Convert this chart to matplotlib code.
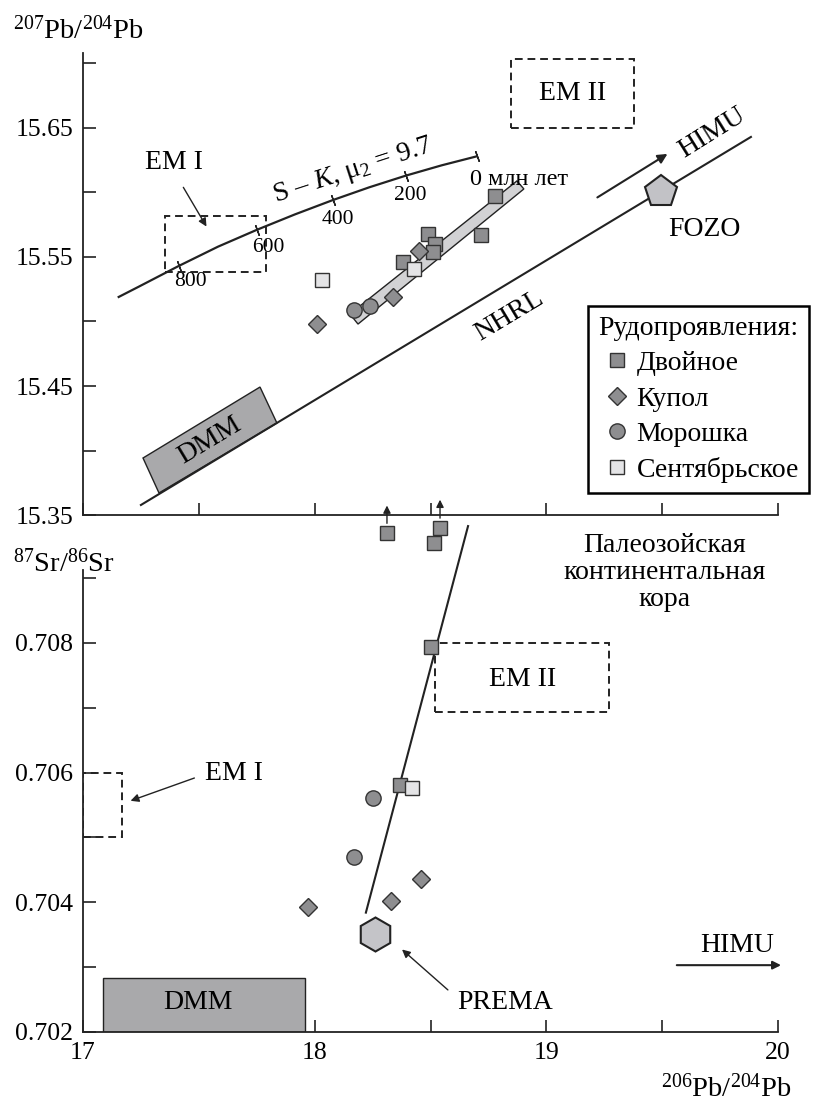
import matplotlib
matplotlib.use("Agg")
import matplotlib.pyplot as plt
from matplotlib.patches import Polygon, Rectangle
from matplotlib.lines import Line2D

plt.rcParams['font.family'] = ['Liberation Serif', 'DejaVu Serif']
plt.rcParams['mathtext.fontset'] = 'custom'
plt.rcParams['mathtext.rm'] = 'Liberation Serif'
plt.rcParams['mathtext.it'] = 'Liberation Serif:italic'

# --- top panel: 207Pb/204Pb vs 206Pb/204Pb ---
dvoinoe_x = [18.78, 18.72, 18.49, 18.52, 18.51, 18.38]
dvoinoe_y = [15.597, 15.567, 15.568, 15.560, 15.554, 15.546]
kupol_x = [18.45, 18.34, 18.01]
kupol_y = [15.555, 15.519, 15.498]
moroshka_x = [18.17, 18.24]
moroshka_y = [15.509, 15.512]
sent_x = [18.43, 18.03]
sent_y = [15.541, 15.532]

# Stacey-Kramers growth curve (ages in Ma)
sk_age = [950, 900, 800, 700, 600, 500, 400, 300, 200, 100, 0]
sk_x = [17.154, 17.241, 17.413, 17.583, 17.750, 17.915, 18.077, 18.236, 18.393, 18.548, 18.700]
sk_y = [15.519, 15.527, 15.543, 15.558, 15.571, 15.583, 15.594, 15.604, 15.613, 15.621, 15.628]
sk_marks = [800, 600, 400, 200, 0]

nhrl_x = [17.25, 19.883]
nhrl_y = [15.3578, 15.643]

band_x = [18.873, 18.903, 18.187, 18.152]
band_y = [15.6089, 15.6027, 15.498, 15.5058]

dmm_top_x = [17.259, 17.764, 17.837, 17.328]
dmm_top_y = [15.3942, 15.4492, 15.4213, 15.3671]

em1_top = (17.354, 15.538, 17.790, 15.582)   # x0, y0, x1, y1
em2_top = (18.847, 15.650, 19.378, 15.7035)
fozo = (19.495, 15.600)

# --- bottom panel: 87Sr/86Sr vs 206Pb/204Pb ---
dvoinoe_sr_x = [18.50, 18.37, 18.31, 18.54, 18.515]
dvoinoe_sr_y = [0.70794, 0.70581, 0.70969, 0.70977, 0.70954]
kupol_sr_x = [18.46, 18.33, 17.97]
kupol_sr_y = [0.70436, 0.70402, 0.70393]
moroshka_sr_x = [18.25, 18.17]
moroshka_sr_y = [0.70561, 0.70470]
sent_sr_x = [18.42]
sent_sr_y = [0.70576]

offscale_x = [18.312, 18.541]
offscale_y0 = [0.70980, 0.70988]
offscale_y1 = [0.71016, 0.71025]

trend_x = [18.221, 18.662]
trend_y = [0.70384, 0.70980]

prema = (18.26, 0.70351)
dmm_bot = (17.086, 0.702, 17.958, 0.70283)
em1_bot = (17.0, 0.705, 17.168, 0.706)
em2_bot = (18.519, 0.70693, 19.270, 0.70800)

x_ticks = [17, 17.5, 18, 18.5, 19, 19.5, 20]
x_labels = ['17', '', '18', '', '19', '', '20']
pb_ticks = [15.35, 15.40, 15.45, 15.50, 15.55, 15.60, 15.65, 15.70]
pb_labels = ['15.35', '', '15.45', '', '15.55', '', '15.65', '']
sr_ticks = [0.702, 0.703, 0.704, 0.705, 0.706, 0.707, 0.708, 0.709]
sr_labels = ['0.702', '', '0.704', '', '0.706', '', '0.708', '']

DARK = '#222222'
EDGE = '#333333'
MID = '#8e8e90'
LIGHT = '#e4e4e6'
FS = 20      # annotation text
TFS = 18.5   # tick labels
SFS = 15.5   # ages on the S-K curve

fig = plt.figure(figsize=(8.17, 11.01), dpi=100)
ax = fig.add_axes([0.1016, 0.5322, 0.8507, 0.4196])
bx = fig.add_axes([0.1016, 0.0627, 0.8507, 0.4696])
bx.patch.set_visible(False)

for a in (ax, bx):
    a.spines['top'].set_visible(False)
    a.spines['right'].set_visible(False)
    for s in ('left', 'bottom'):
        a.spines[s].set_linewidth(1.3)
        a.spines[s].set_color(DARK)
    a.set_xlim(17, 20)
    a.set_xticks(x_ticks)
    a.tick_params(direction='in', length=9, width=1.2, color=DARK,
                  labelsize=TFS, pad=7)

ax.set_ylim(15.35, 15.708)
ax.set_yticks(pb_ticks)
ax.set_yticklabels(pb_labels)
ax.set_xticklabels([''] * len(x_ticks))

bx.set_ylim(0.702, 0.709972)
bx.set_yticks(sr_ticks)
bx.set_yticklabels(sr_labels)
bx.set_xticklabels(x_labels)
bx.spines['left'].set_bounds(0.702, 0.70912)

mk = dict(linestyle='none', markeredgecolor=EDGE, markeredgewidth=1.0, zorder=5)

# top panel
ax.add_patch(Polygon(list(zip(band_x, band_y)), closed=True, facecolor='#d2d2d4',
                     edgecolor=DARK, lw=1.0, zorder=2))
ax.add_patch(Polygon(list(zip(dmm_top_x, dmm_top_y)), closed=True, facecolor='#a9a9ab',
                     edgecolor=DARK, lw=1.0, zorder=2))
ax.text(17.548, 15.408, 'DMM', fontsize=FS, rotation=31, ha='center', va='center', zorder=3)

ax.plot(nhrl_x, nhrl_y, color=DARK, lw=1.5, zorder=3)
ax.text(18.84, 15.504, 'NHRL', fontsize=FS, rotation=31, ha='center', va='center')

ax.plot(sk_x, sk_y, color=DARK, lw=1.6, zorder=3)
for age, x, y in zip(sk_age, sk_x, sk_y):
    if age in sk_marks:
        ax.plot(x, y, marker=(2, 2, 20), markersize=8, markeredgewidth=1.0,
                color=DARK, zorder=3)
ax.text(17.462, 15.5306, '800', fontsize=SFS, ha='center', va='center')
ax.text(17.798, 15.557, '600', fontsize=SFS, ha='center', va='center')
ax.text(18.100, 15.5787, '400', fontsize=SFS, ha='center', va='center')
ax.text(18.411, 15.598, '200', fontsize=SFS, ha='center', va='center')
ax.text(18.670, 15.6097, '0 млн лет', fontsize=17.5, ha='left', va='center')
ax.text(18.165, 15.617, r'S – $K$, μ$_2$ = 9.7', fontsize=FS, rotation=18,
        ha='center', va='center')

for box in (em1_top, em2_top):
    ax.add_patch(Rectangle((box[0], box[1]), box[2] - box[0], box[3] - box[1],
                           fill=False, edgecolor=DARK, lw=1.4, ls=(0, (4, 2.5)), zorder=3))
ax.text(19.115, 15.677, 'EM II', fontsize=FS, ha='center', va='center')
ax.text(17.393, 15.623, 'EM I', fontsize=FS, ha='center', va='center')
ax.annotate('', xy=(17.539, 15.5717), xytext=(17.427, 15.6058),
            arrowprops=dict(arrowstyle='-|>', color=DARK, lw=1.0, mutation_scale=12))

ax.annotate('', xy=(19.533, 15.631), xytext=(19.210, 15.595),
            arrowprops=dict(arrowstyle='-|>', color=DARK, lw=1.5, mutation_scale=14))
ax.text(19.715, 15.646, 'HIMU', fontsize=FS, rotation=32, ha='center', va='center')

ax.plot(*fozo, marker='p', markersize=24, markerfacecolor='#c2c2c6',
        markeredgecolor=DARK, markeredgewidth=1.5, zorder=6)
ax.text(19.68, 15.571, 'FOZO', fontsize=FS, ha='center', va='center')

ax.plot(dvoinoe_x, dvoinoe_y, marker='s', markersize=9.5, markerfacecolor=MID, **mk)
ax.plot(kupol_x, kupol_y, marker='D', markersize=9.2, markerfacecolor=MID, **mk)
ax.plot(moroshka_x, moroshka_y, marker='o', markersize=11, markerfacecolor=MID, **mk)
ax.plot(sent_x, sent_y, marker='s', markersize=9.5, markerfacecolor=LIGHT, **mk)

handles = [
    Line2D([], [], marker='s', markersize=9.5, markerfacecolor=MID, **mk),
    Line2D([], [], marker='D', markersize=9, markerfacecolor=MID, **mk),
    Line2D([], [], marker='o', markersize=11, markerfacecolor=MID, **mk),
    Line2D([], [], marker='s', markersize=9.5, markerfacecolor=LIGHT, **mk),
]
labels = ['Двойное', 'Купол', 'Морошка', 'Сентябрьское']
leg = ax.legend(handles, labels, title='Рудопроявления:', loc='upper left',
                bbox_to_anchor=(0.7197, 1 - 306 / 1101), bbox_transform=fig.transFigure,
                fontsize=FS, title_fontsize=FS, alignment='left', fancybox=False,
                framealpha=1, edgecolor='black', handlelength=1.4, handletextpad=0.0,
                labelspacing=0.36, borderpad=0.35, borderaxespad=0)
leg.get_frame().set_linewidth(1.8)

# bottom panel
bx.add_patch(Rectangle((dmm_bot[0], dmm_bot[1]), dmm_bot[2] - dmm_bot[0], dmm_bot[3] - dmm_bot[1],
                       facecolor='#a9a9ab', edgecolor=DARK, lw=1.0, zorder=2))
bx.text(17.496, 0.70246, 'DMM', fontsize=FS, ha='center', va='center', zorder=3)

for box in (em1_bot, em2_bot):
    bx.add_patch(Rectangle((box[0], box[1]), box[2] - box[0], box[3] - box[1],
                           fill=False, edgecolor=DARK, lw=1.4, ls=(0, (4, 2.5)), zorder=3))
bx.text(18.899, 0.70743, 'EM II', fontsize=FS, ha='center', va='center')
bx.text(17.527, 0.70599, 'EM I', fontsize=FS, ha='left', va='center')
bx.annotate('', xy=(17.194, 0.70555), xytext=(17.492, 0.70593),
            arrowprops=dict(arrowstyle='-|>', color=DARK, lw=1.0, mutation_scale=12))

bx.plot(trend_x, trend_y, color=DARK, lw=1.5, zorder=3, clip_on=False)

bx.plot(*prema, marker='h', markersize=24.5, markerfacecolor='#c4c4c8',
        markeredgecolor=DARK, markeredgewidth=1.5, zorder=6)
bx.text(18.821, 0.70246, 'PREMA', fontsize=FS, ha='center', va='center')
bx.annotate('', xy=(18.368, 0.70330), xytext=(18.584, 0.70262),
            arrowprops=dict(arrowstyle='-|>', color=DARK, lw=1.0, mutation_scale=12))

bx.annotate('', xy=(20.025, 0.70303), xytext=(19.551, 0.70303), annotation_clip=False,
            arrowprops=dict(arrowstyle='-|>', color=DARK, lw=1.5, mutation_scale=12))
bx.text(19.823, 0.70334, 'HIMU', fontsize=FS, ha='center', va='center')

bx.text(19.512, 0.70908, 'Палеозойская\nконтинентальная\nкора', fontsize=FS,
        ha='center', va='center', linespacing=1.1)

for x, y0, y1 in zip(offscale_x, offscale_y0, offscale_y1):
    bx.annotate('', xy=(x, y1), xytext=(x, y0), annotation_clip=False,
                arrowprops=dict(arrowstyle='-|>', color=DARK, lw=1.0, mutation_scale=11))

bx.plot(dvoinoe_sr_x, dvoinoe_sr_y, marker='s', markersize=9.5, markerfacecolor=MID,
        clip_on=False, **mk)
bx.plot(kupol_sr_x, kupol_sr_y, marker='D', markersize=9.2, markerfacecolor=MID, **mk)
bx.plot(moroshka_sr_x, moroshka_sr_y, marker='o', markersize=11, markerfacecolor=MID, **mk)
bx.plot(sent_sr_x, sent_sr_y, marker='s', markersize=9.5, markerfacecolor=LIGHT, **mk)

# axis titles
fig.text(0.0159, 0.9728, r'$^{207}$Pb/$^{204}$Pb', fontsize=FS + 0.5, ha='left', va='center')
fig.text(0.0159, 0.4886, r'$^{87}$Sr/$^{86}$Sr', fontsize=FS + 0.5, ha='left', va='center')
fig.text(0.9694, 0.0118, r'$^{206}$Pb/$^{204}$Pb', fontsize=FS + 0.5, ha='right', va='center')

fig.savefig('out.png', dpi=100)
